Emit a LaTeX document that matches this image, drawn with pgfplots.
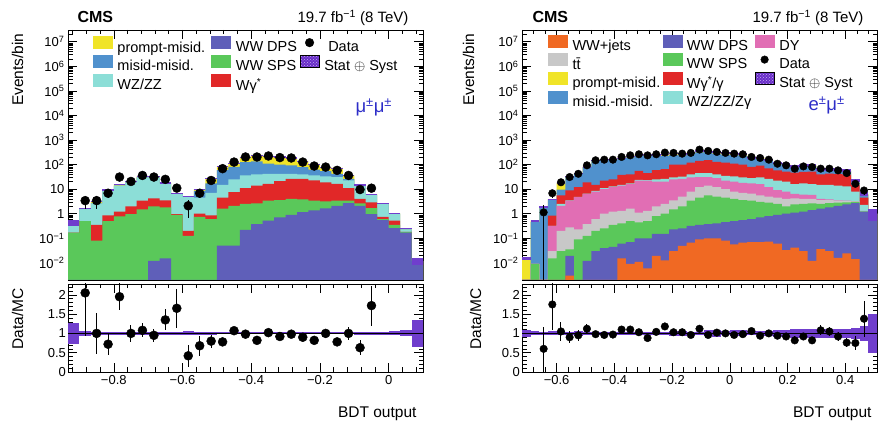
\documentclass[border=0pt]{standalone}
\usepackage{fontspec}
\setmainfont{Liberation Sans}
\usepackage{pgfplots}
\pgfplotsset{compat=1.18}
\usepackage{pgfplotstable}
\usetikzlibrary{patterns}

\definecolor{cyel}{RGB}{240,228,40}
\definecolor{cmis}{RGB}{80,145,205}
\definecolor{cwz}{RGB}{140,222,215}
\definecolor{cdps}{RGB}{95,95,185}
\definecolor{csps}{RGB}{90,200,90}
\definecolor{cwg}{RGB}{225,40,40}
\definecolor{cwwj}{RGB}{240,105,35}
\definecolor{ctt}{RGB}{200,200,200}
\definecolor{cdy}{RGB}{225,110,180}
\definecolor{cstat}{RGB}{105,45,200}
\definecolor{cband}{RGB}{112,62,205}
\definecolor{cdot}{RGB}{195,175,240}
\definecolor{chan}{RGB}{45,45,200}

\newcommand{\lc}[2]{\hspace{3pt}\makebox[#1][l]{#2}}

% mu mu channel: cumulative stack tops (DPS, +SPS, +Wg*, +WZ/ZZ, +misid, +prompt) and rel. unc.
\pgfplotstableread{
x d s g z m p e
-0.93333 1e-4 0.17 0.17 0.40 0.40 0.42 0.28
-0.90000 1e-4 0.50 0.50 1.6 1.6 1.66 0.07
-0.86667 1e-4 0.08 0.35 2.6 2.6 3.2 0.04
-0.83333 1e-4 0.50 0.85 8.5 8.5 9.3 0.04
-0.80000 1e-4 0.78 1.2 14 14 16 0.03
-0.76667 1e-4 0.95 2.0 19 19 21 0.03
-0.73333 1e-4 1.5 3.4 30 30 33 0.03
-0.70000 0.012 2.0 4.2 30 30 33 0.03
-0.66667 0.015 1.8 3.5 17 17 18.5 0.04
-0.63333 1e-4 0.9 0.95 6.5 6.5 6.8 0.04
-0.60000 1e-4 0.125 0.2 4.8 4.8 5.1 0.05
-0.56667 1e-4 0.75 1.0 4.5 8.5 10 0.04
-0.53333 1e-4 0.6 0.85 7 17 28 0.03
-0.50000 0.05 1.6 4.5 15 60 85 0.025
-0.46667 0.05 2.1 7.5 25 80 118 0.025
-0.43333 0.22 2.5 11 36 127 207 0.025
-0.40000 0.38 2.6 14 40 135 245 0.025
-0.36667 0.52 3.4 16.5 42 108 219 0.025
-0.33333 0.71 3.6 21 42 100 209 0.025
-0.30000 0.9 4.0 26 42 93 189 0.025
-0.26667 1.15 3.8 26 40 79 140 0.025
-0.23333 1.35 3.4 22.5 36 62 106 0.025
-0.20000 1.65 3.2 19 33 54 79 0.025
-0.16667 2.1 3.4 16.5 31 42 74 0.025
-0.13333 2.7 3.4 11 22.5 26 36 0.025
-0.10000 2.1 2.6 4.0 14 14 15 0.03
-0.06667 0.97 1.7 2.9 6 6 6.3 0.03
-0.03333 0.55 0.6 0.75 2.5 2.5 2.7 0.03
0.00000 0.26 0.35 0.52 1.0 1.0 1.02 0.05
0.03333 0.17 0.18 0.18 0.23 0.23 0.25 0.08
0.06667 0.012 0.012 0.012 0.012 0.012 0.012 0.35
0.10000 0.012 0.012 0.012 0.012 0.012 0.012 0.35
}\stackL

\pgfplotstableread{
x n ne r re
-0.88333 3.4 1.84 2.05 1.11
-0.85000 3.4 1.84 1.0 0.54
-0.81667 6.8 2.6 0.72 0.28
-0.78333 31 5.6 1.95 0.35
-0.75000 20.5 4.5 1.0 0.22
-0.71667 36 6 1.08 0.18
-0.68333 31 5.6 0.95 0.17
-0.65000 25 5 1.35 0.27
-0.61667 11 3.3 1.65 0.5
-0.58333 2.1 1.45 0.42 0.29
-0.55000 6.8 2.6 0.68 0.26
-0.51667 22.5 4.7 0.8 0.17
-0.48333 68 8.2 0.78 0.095
-0.45000 126 11.2 1.07 0.095
-0.41667 203 14.2 0.98 0.069
-0.38333 203 14.2 0.82 0.058
-0.35000 223 14.9 1.02 0.068
-0.31667 192 13.9 0.92 0.066
-0.28333 185 13.6 0.98 0.072
-0.25000 126 11.2 0.9 0.08
-0.21667 87 9.3 0.82 0.088
-0.18333 79 8.9 1.0 0.11
-0.15000 58 7.6 0.78 0.10
-0.11667 36 6 1.0 0.17
-0.08333 9.6 3.1 0.63 0.2
-0.05000 10.9 3.3 1.72 0.52
}\dataL

% e mu channel: cumulative (WW+jets, +DPS, +SPS, +ttbar, +DY, +WZ, +Wg, +misid, +prompt)
\pgfplotstableread{
x o d s t y z g m p e
-0.72 1e-4 1e-4 1e-4 1e-4 1e-4 1e-4 1e-4 1e-4 0.015 0.10
-0.69 1e-4 1e-4 0.009 0.009 0.009 0.009 0.009 0.45 0.52 0.05
-0.66 1e-4 1e-4 1e-4 1e-4 1e-4 1e-4 1e-4 1.8 1.9 0.04
-0.63 1e-4 1e-4 0.015 0.03 0.32 0.32 0.83 3.7 3.9 0.05
-0.60 1e-4 1e-4 0.03 0.2 2.1 2.5 5.5 9.5 18 0.05
-0.57 0.003 0.019 0.035 0.28 3.4 3.5 8.8 33 34 0.04
-0.54 1e-4 1e-4 0.09 0.23 4.7 4.8 12 42 44 0.07
-0.51 1e-4 0.012 0.125 0.38 6.4 6.6 19 80 83 0.04
-0.48 1e-4 0.03 0.2 0.6 8 8.5 15 140 152 0.04
-0.45 1e-4 0.04 0.25 1.0 10 11 22 150 165 0.04
-0.42 1e-4 0.045 0.35 1.2 12 13 25 150 163 0.04
-0.39 0.015 0.06 0.4 1.3 14 15 38 170 185 0.04
-0.36 0.009 0.07 0.5 1.6 16 17 40 195 215 0.04
-0.33 0.011 0.1 0.44 1.1 22 24 55 225 254 0.04
-0.30 0.006 0.1 0.5 1.3 22 23 45 235 269 0.04
-0.27 0.019 0.15 0.8 2.0 20 25 60 220 252 0.04
-0.24 0.0126 0.15 1.0 2.5 20 26 65 225 260 0.04
-0.21 0.03 0.23 1.5 3.5 25 30 100 250 289 0.07
-0.18 0.049 0.25 2.0 5.0 26 32 100 235 270 0.07
-0.15 0.067 0.32 3.4 8 30 40 120 270 310 0.04
-0.12 0.09 0.35 4.5 12 31 45 140 310 362 0.04
-0.09 0.1 0.38 5.5 14 31 45 150 320 373 0.08
-0.06 0.1 0.4 5.0 12 28 40 130 275 320 0.10
-0.03 0.08 0.45 4.5 10 22 35 120 255 298 0.05
0.00 0.057 0.5 4.0 8 20 33 110 250 290 0.08
0.03 0.067 0.55 3.6 7 18 30 100 230 267 0.08
0.06 0.07 0.6 3.4 6.5 17 28 80 165 192 0.05
0.09 0.07 0.7 3.0 5.5 16 30 90 172 197 0.05
0.12 0.073 0.8 2.8 5.0 12 26 70 138 158 0.06
0.15 0.06 0.9 2.5 4.5 9 22 58 102 115 0.10
0.18 0.033 1.0 2.0 4.0 8 20 52 90 101 0.10
0.21 0.042 1.1 2.4 4.2 6.4 16 47 75 83 0.12
0.24 0.03 1.2 2.5 4.0 6.0 17 50 82 91 0.12
0.27 0.012 1.4 2.6 4.0 5.8 16 52 86 96 0.12
0.30 0.036 1.6 2.5 3.6 4.0 15 40 57 63 0.12
0.33 0.03 1.8 2.7 3.6 3.8 15 43 59 65 0.12
0.36 0.016 2.1 2.8 3.4 3.5 14 41 57 63 0.12
0.39 0.024 2.4 2.9 3.3 3.4 13 39 54 59 0.12
0.42 0.014 2.7 3.0 3.2 3.2 8 15 20 22 0.15
0.45 1e-4 1.2 1.25 1.3 1.3 2.3 4.5 6.0 6.4 0.20
0.48 1e-4 1.0 1.0 1.0 1.0 1.0 1.0 1.0 1.0 0.50
0.51 1e-4 1.0 1.0 1.0 1.0 1.0 1.0 1.0 1.0 0.50
}\stackR

\pgfplotstableread{
x n nep nem r rep rem
-0.645 1.13 1.06 1.129 0.6 0.56 0.6
-0.615 6.8 2.6 2.6 1.75 0.67 0.67
-0.585 19 4.4 4.4 1.05 0.24 0.24
-0.555 31 5.6 5.6 0.9 0.16 0.16
-0.525 42 6.5 6.5 0.95 0.15 0.15
-0.495 93 9.6 9.6 1.12 0.12 0.12
-0.465 149 12.2 12.2 0.98 0.08 0.08
-0.435 158 12.6 12.6 0.96 0.076 0.076
-0.405 158 12.6 12.6 0.97 0.077 0.077
-0.375 204 14.3 14.3 1.1 0.077 0.077
-0.345 237 15.4 15.4 1.1 0.071 0.071
-0.315 262 16.2 16.2 1.03 0.064 0.064
-0.285 237 15.4 15.4 0.88 0.057 0.057
-0.255 262 16.2 16.2 1.04 0.064 0.064
-0.225 307 17.5 17.5 1.18 0.067 0.067
-0.195 298 17.3 17.3 1.03 0.06 0.06
-0.165 278 16.7 16.7 1.03 0.062 0.062
-0.135 298 17.3 17.3 0.96 0.056 0.056
-0.105 406 20.1 20.1 1.12 0.056 0.056
-0.075 358 18.9 18.9 0.96 0.051 0.051
-0.045 326 18.1 18.1 1.02 0.056 0.056
-0.015 298 17.3 17.3 1.0 0.058 0.058
0.015 278 16.7 16.7 0.96 0.058 0.058
0.045 262 16.2 16.2 0.98 0.061 0.061
0.075 204 14.3 14.3 1.06 0.074 0.074
0.105 185 13.6 13.6 0.94 0.069 0.069
0.135 158 12.6 12.6 1.0 0.08 0.08
0.165 108 10.4 10.4 0.94 0.09 0.09
0.195 93 9.6 9.6 0.92 0.095 0.095
0.225 68 8.2 8.2 0.82 0.1 0.1
0.255 84 9.2 9.2 0.92 0.1 0.1
0.285 79 8.9 8.9 0.82 0.092 0.092
0.315 68 8.2 8.2 1.08 0.13 0.13
0.345 68 8.2 8.2 1.05 0.127 0.127
0.375 58 7.6 7.6 0.92 0.12 0.12
0.405 45 6.7 6.7 0.76 0.113 0.113
0.435 16.5 4.1 4.1 0.75 0.185 0.185
0.465 8.8 3.0 3.0 1.38 0.47 0.47
}\dataR

\pgfplotsset{
  cmsbase/.style={
    scale only axis, width=355pt, anchor=south west,
    axis line style={line width=0.8pt},
    tick align=inside, tick style={black, line width=0.6pt},
    major tick length=9pt, minor tick length=4.5pt,
    tick label style={font=\fontsize{13}{15}\selectfont},
  },
}

\begin{document}
\begin{tikzpicture}[x=1pt,y=1pt]
\path[use as bounding box] (0,0) rectangle (881,430);

% ---------------- left: mu mu ----------------
\begin{axis}[cmsbase, at={(68pt,150pt)}, height=250pt,
  ymode=log, log origin y=infty, ymin=2e-3, ymax=3e7,
  ytick={1e-2,1e-1,1,10,1e2,1e3,1e4,1e5,1e6,1e7},
  yticklabels={10\textsuperscript{−2},10\textsuperscript{−1},1,10,10\textsuperscript{2},10\textsuperscript{3},10\textsuperscript{4},10\textsuperscript{5},10\textsuperscript{6},10\textsuperscript{7}},
  minor ytick={2e-3,3e-3,4e-3,5e-3,6e-3,7e-3,8e-3,9e-3,2e-2,3e-2,4e-2,5e-2,6e-2,7e-2,8e-2,9e-2,0.2,0.3,0.4,0.5,0.6,0.7,0.8,0.9,2,3,4,5,6,7,8,9,20,30,40,50,60,70,80,90,200,300,400,500,600,700,800,900,2e3,3e3,4e3,5e3,6e3,7e3,8e3,9e3,2e4,3e4,4e4,5e4,6e4,7e4,8e4,9e4,2e5,3e5,4e5,5e5,6e5,7e5,8e5,9e5,2e6,3e6,4e6,5e6,6e6,7e6,8e6,9e6,2e7},
  xmin=-0.93333, xmax=0.1, xtick={-0.8,-0.6,-0.4,-0.2,0}, xticklabels={},
  minor xtick={-0.92,-0.88,-0.84,-0.76,-0.72,-0.68,-0.64,-0.56,-0.52,-0.48,-0.44,-0.36,-0.32,-0.28,-0.24,-0.16,-0.12,-0.08,-0.04,0.04,0.08},
  legend columns=3, legend cell align=left,
  legend style={draw=none, fill=none, inner sep=0pt, column sep=0pt, row sep=-0.5pt,
      font=\fontsize{14.5}{16}\selectfont, at={(0.07,0.975)}, anchor=north west}]
\addlegendimage{legend image code/.code={\fill[cyel] (0pt,-1pt) rectangle (19pt,11pt);}}
\addlegendentry{\lc{92pt}{prompt-misid.}}
\addlegendimage{legend image code/.code={\fill[cdps] (0pt,-1pt) rectangle (19pt,11pt);}}
\addlegendentry{\lc{62pt}{WW DPS}}
\addlegendimage{legend image code/.code={\fill[black] (9.5pt,5pt) circle (4.3pt);}}
\addlegendentry{\hspace{7pt}Data}
\addlegendimage{legend image code/.code={\fill[cmis] (0pt,-1pt) rectangle (19pt,11pt);}}
\addlegendentry{\lc{92pt}{misid-misid.}}
\addlegendimage{legend image code/.code={\fill[csps] (0pt,-1pt) rectangle (19pt,11pt);}}
\addlegendentry{\lc{62pt}{WW SPS}}
\addlegendimage{legend image code/.code={\fill[cstat] (0pt,-1pt) rectangle (19pt,11pt);
  \fill[pattern=crosshatch dots, pattern color=cdot] (0pt,-1pt) rectangle (19pt,11pt);}}
\addlegendentry{\hspace{3pt}Stat $\oplus$ Syst}
\addlegendimage{legend image code/.code={\fill[cwz] (0pt,-1pt) rectangle (19pt,11pt);}}
\addlegendentry{\lc{92pt}{WZ/ZZ}}
\addlegendimage{legend image code/.code={\fill[cwg] (0pt,-1pt) rectangle (19pt,11pt);}}
\addlegendentry{\lc{62pt}{Wγ\textsuperscript{*}}}

\addplot[fill=cyel, draw=none, const plot, forget plot] table[x=x,y=p] {\stackL} \closedcycle;
\addplot[fill=cmis, draw=none, const plot, forget plot] table[x=x,y=m] {\stackL} \closedcycle;
\addplot[fill=cwz,  draw=none, const plot, forget plot] table[x=x,y=z] {\stackL} \closedcycle;
\addplot[fill=cwg,  draw=none, const plot, forget plot] table[x=x,y=g] {\stackL} \closedcycle;
\addplot[fill=csps, draw=none, const plot, forget plot] table[x=x,y=s] {\stackL} \closedcycle;
\addplot[fill=cdps, draw=none, const plot, forget plot] table[x=x,y=d] {\stackL} \closedcycle;

% Stat+Syst band: one box per bin
\addplot[draw=none, mark=none, forget plot,
  error bars/y dir=both, error bars/y explicit, error bars/error mark=none,
  error bars/error bar style={draw=cband, line width=11.45pt}]
  table[x expr=\thisrow{x}+0.016667, y=p, y error expr=\thisrow{p}*\thisrow{e}] {\stackL};

\addplot[black, only marks, mark=*, mark size=4.5pt, forget plot,
  error bars/y dir=both, error bars/y explicit, error bars/error mark=none,
  error bars/error bar style={line width=1pt, black}]
  table[x=x, y=n, y error=ne] {\dataL};
\end{axis}

\begin{axis}[cmsbase, at={(68pt,58pt)}, height=88pt, ymin=0, ymax=2.28,
  ytick={0,0.5,1,1.5,2}, yticklabels={0,0.5,1,1.5,2},
  yticklabel style={xshift=1.5pt},
  minor ytick={0.1,0.2,0.3,0.4,0.6,0.7,0.8,0.9,1.1,1.2,1.3,1.4,1.6,1.7,1.8,1.9,2.1,2.2},
  xmin=-0.93333, xmax=0.1,
  xtick={-0.8,-0.6,-0.4,-0.2,0}, xticklabels={−0.8,−0.6,−0.4,−0.2,0},
  minor xtick={-0.92,-0.88,-0.84,-0.76,-0.72,-0.68,-0.64,-0.56,-0.52,-0.48,-0.44,-0.36,-0.32,-0.28,-0.24,-0.16,-0.12,-0.08,-0.04,0.04,0.08}]
\addplot[draw=none, mark=none, forget plot,
  error bars/y dir=both, error bars/y explicit, error bars/error mark=none,
  error bars/error bar style={draw=cband, line width=11.45pt}]
  table[x expr=\thisrow{x}+0.016667, y expr=1, y error=e] {\stackL};
\addplot[black, line width=0.8pt, forget plot] coordinates {(-0.93333,1) (0.1,1)};
\addplot[black, only marks, mark=*, mark size=4.5pt, forget plot,
  error bars/y dir=both, error bars/y explicit, error bars/error mark=none,
  error bars/error bar style={line width=1pt, black}]
  table[x=x, y=r, y error=re] {\dataL};
\end{axis}

% ---------------- right: e mu ----------------
\begin{axis}[cmsbase, at={(522pt,150pt)}, height=250pt,
  ymode=log, log origin y=infty, ymin=2e-3, ymax=3e7,
  ytick={1e-2,1e-1,1,10,1e2,1e3,1e4,1e5,1e6,1e7},
  yticklabels={10\textsuperscript{−2},10\textsuperscript{−1},1,10,10\textsuperscript{2},10\textsuperscript{3},10\textsuperscript{4},10\textsuperscript{5},10\textsuperscript{6},10\textsuperscript{7}},
  minor ytick={2e-3,3e-3,4e-3,5e-3,6e-3,7e-3,8e-3,9e-3,2e-2,3e-2,4e-2,5e-2,6e-2,7e-2,8e-2,9e-2,0.2,0.3,0.4,0.5,0.6,0.7,0.8,0.9,2,3,4,5,6,7,8,9,20,30,40,50,60,70,80,90,200,300,400,500,600,700,800,900,2e3,3e3,4e3,5e3,6e3,7e3,8e3,9e3,2e4,3e4,4e4,5e4,6e4,7e4,8e4,9e4,2e5,3e5,4e5,5e5,6e5,7e5,8e5,9e5,2e6,3e6,4e6,5e6,6e6,7e6,8e6,9e6,2e7},
  xmin=-0.72, xmax=0.51, xtick={-0.6,-0.4,-0.2,0,0.2,0.4}, xticklabels={},
  minor xtick={-0.72,-0.68,-0.64,-0.56,-0.52,-0.48,-0.44,-0.36,-0.32,-0.28,-0.24,-0.16,-0.12,-0.08,-0.04,0.04,0.08,0.12,0.16,0.24,0.28,0.32,0.36,0.44,0.48},
  legend columns=3, legend cell align=left,
  legend style={draw=none, fill=none, inner sep=0pt, column sep=0pt, row sep=-1pt,
      font=\fontsize{14.5}{16}\selectfont, at={(0.073,0.98)}, anchor=north west}]
\addlegendimage{legend image code/.code={\fill[cwwj] (0pt,-1pt) rectangle (19pt,11pt);}}
\addlegendentry{\lc{88pt}{WW+jets}}
\addlegendimage{legend image code/.code={\fill[cdps] (0pt,-1pt) rectangle (19pt,11pt);}}
\addlegendentry{\lc{66pt}{WW DPS}}
\addlegendimage{legend image code/.code={\fill[cdy] (0pt,-1pt) rectangle (19pt,11pt);}}
\addlegendentry{\hspace{3pt}DY}
\addlegendimage{legend image code/.code={\fill[ctt] (0pt,-1pt) rectangle (19pt,11pt);}}
\addlegendentry{\lc{88pt}{t\={t}}}
\addlegendimage{legend image code/.code={\fill[csps] (0pt,-1pt) rectangle (19pt,11pt);}}
\addlegendentry{\lc{66pt}{WW SPS}}
\addlegendimage{legend image code/.code={\fill[black] (9.5pt,5pt) circle (3.8pt);}}
\addlegendentry{\hspace{3pt}Data}
\addlegendimage{legend image code/.code={\fill[cyel] (0pt,-1pt) rectangle (19pt,11pt);}}
\addlegendentry{\lc{88pt}{prompt-misid.}}
\addlegendimage{legend image code/.code={\fill[cwg] (0pt,-1pt) rectangle (19pt,11pt);}}
\addlegendentry{\lc{66pt}{Wγ\textsuperscript{*}/γ}}
\addlegendimage{legend image code/.code={\fill[cstat] (0pt,-1pt) rectangle (19pt,11pt);
  \fill[pattern=crosshatch dots, pattern color=cdot] (0pt,-1pt) rectangle (19pt,11pt);}}
\addlegendentry{\hspace{3pt}Stat $\oplus$ Syst}
\addlegendimage{legend image code/.code={\fill[cmis] (0pt,-1pt) rectangle (19pt,11pt);}}
\addlegendentry{\lc{88pt}{misid.-misid.}}
\addlegendimage{legend image code/.code={\fill[cwz] (0pt,-1pt) rectangle (19pt,11pt);}}
\addlegendentry{\lc{66pt}{WZ/ZZ/Zγ}}

\addplot[fill=cyel, draw=none, const plot, forget plot] table[x=x,y=p] {\stackR} \closedcycle;
\addplot[fill=cmis, draw=none, const plot, forget plot] table[x=x,y=m] {\stackR} \closedcycle;
\addplot[fill=cwg,  draw=none, const plot, forget plot] table[x=x,y=g] {\stackR} \closedcycle;
\addplot[fill=cwz,  draw=none, const plot, forget plot] table[x=x,y=z] {\stackR} \closedcycle;
\addplot[fill=cdy,  draw=none, const plot, forget plot] table[x=x,y=y] {\stackR} \closedcycle;
\addplot[fill=ctt,  draw=none, const plot, forget plot] table[x=x,y=t] {\stackR} \closedcycle;
\addplot[fill=csps, draw=none, const plot, forget plot] table[x=x,y=s] {\stackR} \closedcycle;
\addplot[fill=cdps, draw=none, const plot, forget plot] table[x=x,y=d] {\stackR} \closedcycle;
\addplot[fill=cwwj, draw=none, const plot, forget plot] table[x=x,y=o] {\stackR} \closedcycle;

\addplot[draw=none, mark=none, forget plot,
  error bars/y dir=both, error bars/y explicit, error bars/error mark=none,
  error bars/error bar style={draw=cband, line width=8.66pt}]
  table[x expr=\thisrow{x}+0.015, y=p, y error expr=\thisrow{p}*\thisrow{e}] {\stackR};

\addplot[black, only marks, mark=*, mark size=3.8pt, forget plot,
  error bars/y dir=both, error bars/y explicit, error bars/error mark=none,
  error bars/error bar style={line width=1pt, black}]
  table[x=x, y=n, y error plus=nep, y error minus=nem] {\dataR};
\end{axis}

\begin{axis}[cmsbase, at={(522pt,58pt)}, height=88pt, ymin=0, ymax=2.28,
  ytick={0,0.5,1,1.5,2}, yticklabels={0,0.5,1,1.5,2},
  yticklabel style={xshift=1.5pt},
  minor ytick={0.1,0.2,0.3,0.4,0.6,0.7,0.8,0.9,1.1,1.2,1.3,1.4,1.6,1.7,1.8,1.9,2.1,2.2},
  xmin=-0.72, xmax=0.51,
  xtick={-0.6,-0.4,-0.2,0,0.2,0.4}, xticklabels={−0.6,−0.4,−0.2,0,0.2,0.4},
  minor xtick={-0.72,-0.68,-0.64,-0.56,-0.52,-0.48,-0.44,-0.36,-0.32,-0.28,-0.24,-0.16,-0.12,-0.08,-0.04,0.04,0.08,0.12,0.16,0.24,0.28,0.32,0.36,0.44,0.48}]
\addplot[draw=none, mark=none, forget plot,
  error bars/y dir=both, error bars/y explicit, error bars/error mark=none,
  error bars/error bar style={draw=cband, line width=8.66pt}]
  table[x expr=\thisrow{x}+0.015, y expr=1, y error=e] {\stackR};
\addplot[black, line width=0.8pt, forget plot] coordinates {(-0.72,1) (0.51,1)};
\addplot[black, only marks, mark=*, mark size=3.8pt, forget plot,
  error bars/y dir=both, error bars/y explicit, error bars/error mark=none,
  error bars/error bar style={line width=1pt, black}]
  table[x=x, y=r, y error plus=rep, y error minus=rem] {\dataR};
\end{axis}

% ---------------- texts ----------------
\node[anchor=base west, font=\fontsize{16}{18}\selectfont\bfseries] at (74,407) {CMS};
\node[anchor=base east, font=\fontsize{15}{18}\selectfont] at (412,407) {19.7 fb\textsuperscript{−1} (8 TeV)};
\node[anchor=base west, font=\fontsize{16}{18}\selectfont\bfseries] at (529,407) {CMS};
\node[anchor=base east, font=\fontsize{15}{18}\selectfont] at (867,407) {19.7 fb\textsuperscript{−1} (8 TeV)};

\node[rotate=90, anchor=base east, font=\fontsize{15.5}{18}\selectfont] at (23,400) {Events/bin};
\node[rotate=90, anchor=base east, font=\fontsize{15.5}{18}\selectfont] at (23,145) {Data/MC};
\node[rotate=90, anchor=base east, font=\fontsize{15.5}{18}\selectfont] at (474,400) {Events/bin};
\node[rotate=90, anchor=base east, font=\fontsize{15.5}{18}\selectfont] at (481,145) {Data/MC};

\node[anchor=base east, font=\fontsize{15.5}{18}\selectfont] at (420,12) {BDT output};
\node[anchor=base east, font=\fontsize{15.5}{18}\selectfont] at (875,12) {BDT output};

\node[anchor=base west, text=chan, font=\fontsize{18.5}{20}\selectfont] at (352,317) {μ\textsuperscript{±}μ\textsuperscript{±}};
\node[anchor=base west, text=chan, font=\fontsize{18.5}{20}\selectfont] at (805,319) {e\textsuperscript{±}μ\textsuperscript{±}};
\end{tikzpicture}
\end{document}
